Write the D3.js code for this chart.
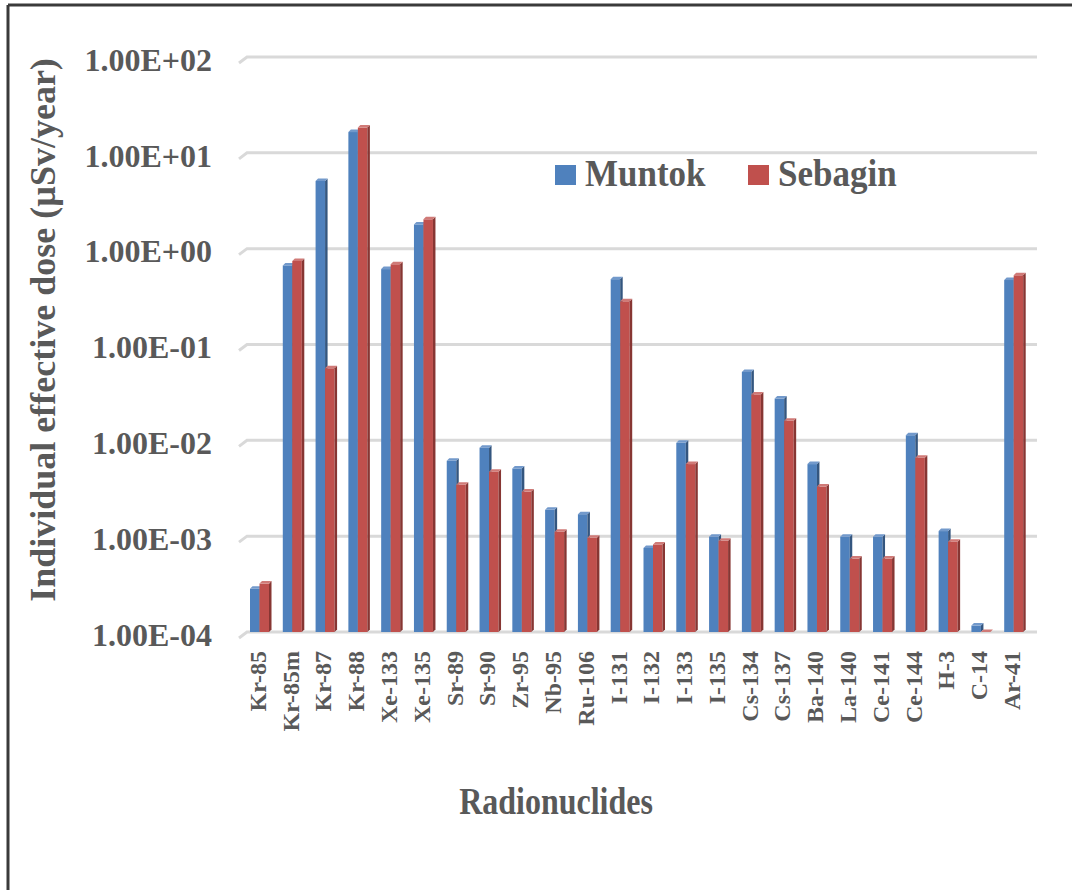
<!DOCTYPE html>
<html>
<head>
<meta charset="utf-8">
<script src="https://cdn.jsdelivr.net/npm/d3@7"></script>
<style>
  body { margin: 0; background: #fff; }
  text { font-family: "Liberation Serif", "Times New Roman", serif; font-weight: bold; fill: #595959; }
</style>
</head>
<body>
<div id="chart"></div>
<script>
// radionuclides on the x axis
var categories = ["Kr-85", "Kr-85m", "Kr-87", "Kr-88", "Xe-133", "Xe-135", "Sr-89", "Sr-90", "Zr-95", "Nb-95",
    "Ru-106", "I-131", "I-132", "I-133", "I-135", "Cs-134", "Cs-137", "Ba-140", "La-140", "Ce-141",
    "Ce-144", "H-3", "C-14", "Ar-41"];
// individual effective dose, uSv/year
var muntok = [3.0e-4, 0.71, 5.4, 17.5, 0.65, 1.9, 6.5e-3, 8.9e-3, 5.4e-3, 2.0e-3,
    1.8e-3, 0.51, 8.0e-4, 1.0e-2, 1.05e-3, 5.5e-2, 2.9e-2, 6.0e-3, 1.05e-3, 1.05e-3,
    1.2e-2, 1.2e-3, 1.24e-4, 0.50];
var sebagin = [3.4e-4, 0.79, 6.0e-2, 19.5, 0.73, 2.15, 3.65e-3, 5.0e-3, 3.1e-3, 1.18e-3,
    1.02e-3, 0.30, 8.7e-4, 6.0e-3, 9.5e-4, 3.2e-2, 1.7e-2, 3.5e-3, 6.2e-4, 6.2e-4,
    7.0e-3, 9.3e-4, 1.02e-4, 0.56];
var seriesNames = ["Muntok", "Sebagin"];
var yTicks = [1e-4, 1e-3, 1e-2, 1e-1, 1, 10, 100];
var yTickLabels = ["1.00E-04", "1.00E-03", "1.00E-02", "1.00E-01", "1.00E+00", "1.00E+01", "1.00E+02"];

var width = 1072, height = 890;
var colors = [
    {face: "#4F81BD", side: "#34567f", top: "#7299cb"},
    {face: "#C0504D", side: "#873633", top: "#d07a77"}
];

var svg = d3.select("#chart").append("svg")
    .attr("width", width)
    .attr("height", height);

svg.append("rect").attr("width", width).attr("height", height).attr("fill", "#fff");

// frame (top and left edges only show in the picture)
svg.append("line").attr("x1", 8).attr("y1", 5).attr("x2", width).attr("y2", 5)
    .attr("stroke", "#3a3a3a").attr("stroke-width", 3);
svg.append("line").attr("x1", 8).attr("y1", 5).attr("x2", 8).attr("y2", height)
    .attr("stroke", "#3a3a3a").attr("stroke-width", 3);

var x = d3.scaleBand().domain(categories).range([245, 1032]).padding(0);
var y = d3.scaleLog().domain([1e-4, 1e2]).range([632, 57]);

// gridlines with a little 3D slant on the left
var grid = svg.append("g").attr("class", "grid");
yTicks.forEach(function (t) {
    grid.append("path")
        .attr("d", "M239," + (y(t) + 6) + "L247," + y(t) + "L1037," + y(t))
        .attr("fill", "none")
        .attr("stroke", "#d9d9d9")
        .attr("stroke-width", 3);
});

// y axis labels
var yAxis = d3.axisLeft(y)
    .tickValues(yTicks)
    .tickFormat(function (d, i) { return yTickLabels[i]; })
    .tickSize(0)
    .tickPadding(0);
var yAxisG = svg.append("g").attr("transform", "translate(212,3)").call(yAxis);
yAxisG.select(".domain").remove();
yAxisG.selectAll("text")
    .attr("font-size", 32)
    .attr("font-family", "Liberation Serif")
    .attr("font-weight", "bold")
    .attr("fill", "#595959");

// x axis labels, rotated
var xAxis = d3.axisBottom(x).tickSize(0).tickPadding(0);
var xAxisG = svg.append("g").attr("transform", "translate(-4,0)").call(xAxis);
xAxisG.select(".domain").remove();
xAxisG.selectAll("text")
    .attr("font-size", 24)
    .attr("font-family", "Liberation Serif")
    .attr("font-weight", "bold")
    .attr("fill", "#595959")
    .attr("text-anchor", "end")
    .attr("dy", "0.35em")
    .attr("transform", "translate(0,651) rotate(-90)");

// bars
var barW = 9.5, depth = 2.5;
var bars = svg.append("g").attr("class", "bars");
[muntok, sebagin].forEach(function (vals, s) {
    var c = colors[s];
    var g = bars.append("g");
    categories.forEach(function (cat, i) {
        var x0 = x(cat) + 5 + s * barW;
        var y0 = y(vals[i]) + depth;
        var base = y(1e-4);
        if (y0 > base) y0 = base;
        g.append("rect")
            .attr("x", x0).attr("y", y0)
            .attr("width", barW).attr("height", base - y0)
            .attr("fill", c.face);
        g.append("path")
            .attr("d", "M" + (x0 + barW) + "," + y0 + "L" + (x0 + barW + depth) + "," + (y0 - depth) +
                "L" + (x0 + barW + depth) + "," + (base - depth) + "L" + (x0 + barW) + "," + base + "Z")
            .attr("fill", c.side);
        g.append("path")
            .attr("d", "M" + x0 + "," + y0 + "L" + (x0 + depth) + "," + (y0 - depth) +
                "L" + (x0 + barW + depth) + "," + (y0 - depth) + "L" + (x0 + barW) + "," + y0 + "Z")
            .attr("fill", c.top);
    });
});

// legend
var legend = svg.append("g").attr("class", "legend");
var legendX = [555, 748];
seriesNames.forEach(function (name, s) {
    legend.append("rect")
        .attr("x", legendX[s]).attr("y", 165)
        .attr("width", 21).attr("height", 20)
        .attr("fill", colors[s].face);
    legend.append("text")
        .attr("transform", "translate(" + (legendX[s] + 30) + ",186) scale(1,1.08)")
        .attr("font-size", 35)
        .text(name);
});

// axis titles
svg.append("text")
    .attr("transform", "translate(55,330) rotate(-90)")
    .attr("text-anchor", "middle")
    .attr("font-size", 36)
    .text("Individual effective dose (µSv/year)");

svg.append("text")
    .attr("transform", "translate(556,814) scale(1,1.2)")
    .attr("text-anchor", "middle")
    .attr("font-size", 32)
    .text("Radionuclides");
</script>
</body>
</html>
